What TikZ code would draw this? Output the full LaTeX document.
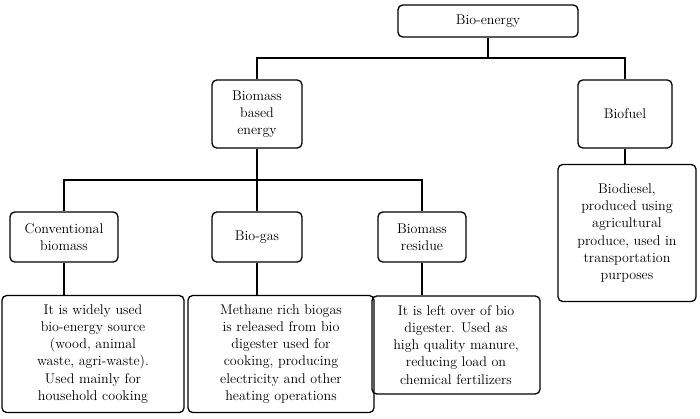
\documentclass[tikz,border=0pt]{standalone}
\usepackage{tikz}
\usetikzlibrary{positioning,calc}
\tikzset{
  box/.style={draw, rounded corners=4pt, line width=1.1pt, align=center, inner sep=2pt,
    font=\fontsize{12}{14.6}\selectfont},
  link/.style={line width=1.1pt}
}
\begin{document}
\begin{tikzpicture}[x=0.03cm,y=-0.03cm]
\useasboundingbox (0,0) rectangle (700,418);

% ---- Top level ----
\node[box, minimum width=180*0.03cm, minimum height=32*0.03cm] (bio) at (488,21) {Bio-energy};
\node[box, minimum width=90*0.03cm, minimum height=68*0.03cm] (biomass) at (257,114) {Biomass\\based\\energy};
\node[box, minimum width=94*0.03cm, minimum height=68*0.03cm] (biofuel) at (625,114) {Biofuel};

% ---- Second row ----
\node[box, minimum width=108*0.03cm, minimum height=50*0.03cm] (conv) at (64,237) {Conventional\\biomass};
\node[box, minimum width=90*0.03cm, minimum height=50*0.03cm] (gas) at (257,237) {Bio-gas};
\node[box, minimum width=88*0.03cm, minimum height=50*0.03cm] (resid) at (422,237) {Biomass\\residue};

% ---- Descriptions ----
\node[box, minimum width=182*0.03cm, minimum height=117*0.03cm] (convtxt) at (93,354)
  {It is widely used\\bio-energy source\\(wood, animal\\waste, agri-waste).\\Used mainly for\\household cooking};
\node[box, minimum width=186*0.03cm, minimum height=117*0.03cm] (gastxt) at (281,354)
  {Methane rich biogas\\is released from bio\\digester used for\\cooking, producing\\electricity and other\\heating operations};
\node[box, minimum width=168*0.03cm, minimum height=98*0.03cm] (residtxt) at (456,345)
  {It is left over of bio\\digester. Used as\\high quality manure,\\reducing load on\\chemical fertilizers};
\node[box, minimum width=138*0.03cm, minimum height=137*0.03cm] (fueltxt) at (627,233)
  {Biodiesel,\\produced using\\agricultural\\produce, used in\\transportation\\purposes};

% ---- Connectors ----
\coordinate (j1) at (488,58);
\coordinate (j2) at (257,180);
\draw[link] (bio.south) -- (j1);
\draw[link] (biomass.north) |- (j1) -| (biofuel.north);
\draw[link] (biomass.south) -- (j2);
\draw[link] (conv.north) |- (j2) -| (resid.north);
\draw[link] (gas.north) -- (j2);
\draw[link] (biofuel.south) -- (biofuel.south |- fueltxt.north);
\draw[link] (conv.south) -- (conv.south |- convtxt.north);
\draw[link] (gas.south) -- (gas.south |- gastxt.north);
\draw[link] (resid.south) -- (resid.south |- residtxt.north);
\end{tikzpicture}
\end{document}
